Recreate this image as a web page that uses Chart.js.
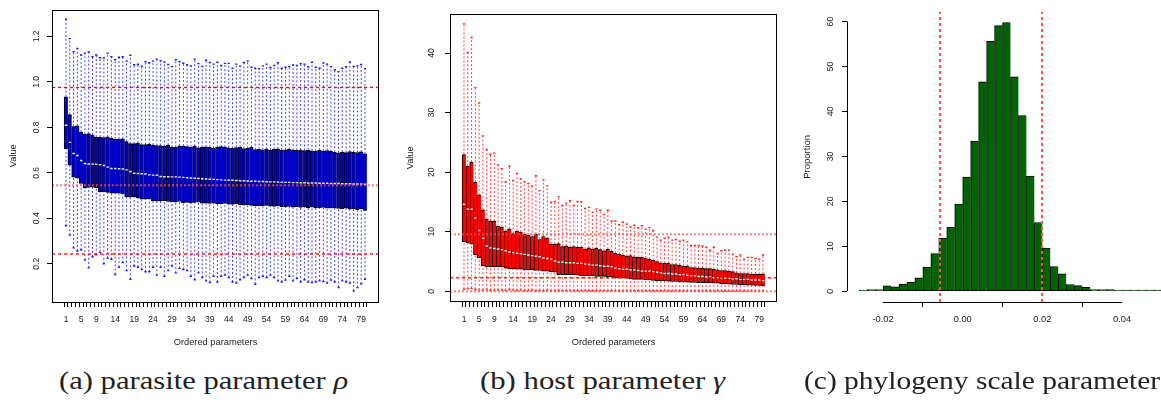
<!DOCTYPE html>
<html><head><meta charset="utf-8">
<script src="https://cdn.jsdelivr.net/npm/chart.js@4/dist/chart.umd.min.js"></script>
<style>
html,body{margin:0;padding:0;background:#fff;width:1161px;height:404px;overflow:hidden;position:relative;}
canvas{position:absolute;top:0;}
#ca{left:0}#cb{left:390px}#cc{left:780px}
.cap{position:absolute;top:368px;font-family:"Liberation Serif","Times New Roman",serif;font-size:26px;line-height:26px;color:#222;white-space:nowrap;transform-origin:0 50%;}
.cap i{font-style:italic}
</style></head><body>
<canvas id="ca" width="390" height="355"></canvas>
<canvas id="cb" width="400" height="355"></canvas>
<canvas id="cc" width="400" height="355"></canvas>
<div class="cap" id="capA" data-left="59" data-w="289">(a) parasite parameter <i>ρ</i></div>
<div class="cap" id="capB" data-left="480" data-w="245">(b) host parameter <i>γ</i></div>
<div class="cap" id="capC" data-left="804" data-w="356">(c) phylogeny scale parameter</div>
<script>
// ---------- Panel (a): parasite parameter rho ----------
const paramsA = Array.from({length: 80}, (_, i) => i + 1);
const xLabelsA = [1,5,9,14,19,24,29,34,39,44,49,54,59,64,69,74,79];
const yTicksA = [0.2,0.4,0.6,0.8,1.0,1.2];
const maxA = [1.275,1.190,1.132,1.147,1.118,1.126,1.131,1.110,1.118,1.106,
  1.106,1.126,1.110,1.097,1.108,1.110,1.091,1.117,1.075,1.077,
  1.069,1.088,1.084,1.091,1.100,1.093,1.087,1.076,1.067,1.097,
  1.088,1.082,1.075,1.070,1.100,1.080,1.068,1.095,1.085,1.078,
  1.086,1.072,1.081,1.081,1.060,1.078,1.069,1.085,1.092,1.064,
  1.060,1.058,1.070,1.078,1.063,1.072,1.084,1.060,1.064,1.067,
  1.074,1.072,1.080,1.078,1.066,1.086,1.064,1.060,1.083,1.078,
  1.067,1.052,1.045,1.060,1.066,1.087,1.068,1.070,1.076,1.058];
const q3A = [0.934,0.856,0.803,0.807,0.779,0.769,0.772,0.766,0.757,0.757,
  0.755,0.758,0.752,0.748,0.748,0.749,0.737,0.728,0.728,0.731,
  0.724,0.724,0.725,0.722,0.720,0.720,0.716,0.722,0.712,0.712,
  0.719,0.718,0.715,0.713,0.717,0.710,0.712,0.714,0.712,0.708,
  0.712,0.715,0.713,0.710,0.708,0.711,0.713,0.707,0.708,0.712,
  0.702,0.703,0.701,0.704,0.700,0.703,0.705,0.700,0.701,0.703,
  0.700,0.699,0.700,0.698,0.700,0.697,0.695,0.699,0.696,0.698,
  0.694,0.690,0.688,0.691,0.689,0.693,0.690,0.689,0.692,0.683];
const medA = [0.809,0.734,0.685,0.676,0.654,0.641,0.639,0.638,0.637,0.636,
  0.632,0.625,0.619,0.619,0.618,0.617,0.613,0.606,0.598,0.597,
  0.596,0.595,0.591,0.590,0.589,0.584,0.583,0.583,0.582,0.582,
  0.581,0.580,0.578,0.577,0.576,0.575,0.574,0.573,0.572,0.571,
  0.570,0.569,0.568,0.567,0.567,0.566,0.565,0.565,0.564,0.563,
  0.563,0.562,0.562,0.561,0.560,0.560,0.559,0.559,0.558,0.558,
  0.557,0.557,0.556,0.556,0.555,0.555,0.555,0.554,0.554,0.554,
  0.553,0.553,0.553,0.552,0.552,0.552,0.551,0.551,0.551,0.550];
const q1A = [0.706,0.634,0.581,0.579,0.553,0.532,0.536,0.537,0.535,0.517,
  0.516,0.514,0.510,0.510,0.510,0.507,0.495,0.493,0.495,0.490,
  0.484,0.484,0.486,0.476,0.475,0.475,0.477,0.474,0.472,0.471,
  0.474,0.469,0.470,0.468,0.470,0.471,0.466,0.466,0.465,0.466,
  0.464,0.463,0.465,0.462,0.461,0.463,0.460,0.458,0.460,0.457,
  0.455,0.456,0.454,0.457,0.453,0.452,0.454,0.451,0.450,0.452,
  0.449,0.451,0.448,0.450,0.447,0.449,0.446,0.447,0.448,0.445,
  0.444,0.446,0.443,0.441,0.444,0.440,0.442,0.438,0.441,0.435];
const minA = [0.367,0.326,0.270,0.256,0.262,0.216,0.182,0.230,0.240,0.250,
  0.200,0.225,0.220,0.153,0.185,0.205,0.170,0.132,0.190,0.185,
  0.175,0.165,0.165,0.185,0.150,0.185,0.145,0.170,0.190,0.160,
  0.180,0.175,0.170,0.145,0.130,0.160,0.140,0.125,0.118,0.145,
  0.120,0.145,0.150,0.140,0.120,0.115,0.130,0.140,0.150,0.135,
  0.110,0.140,0.145,0.140,0.150,0.140,0.125,0.120,0.128,0.145,
  0.125,0.135,0.120,0.130,0.120,0.118,0.120,0.125,0.122,0.115,
  0.128,0.120,0.096,0.125,0.120,0.115,0.080,0.095,0.112,0.132];
const refA = [0.975, 0.545, 0.243];

// ---------- Panel (b): host parameter gamma ----------
const paramsB = Array.from({length: 80}, (_, i) => i + 1);
const xLabelsB = [1,5,9,14,19,24,29,34,39,44,49,54,59,64,69,74,79];
const yTicksB = [0,10,20,30,40];
const maxB = [44.9,40.1,42.6,34.2,31.6,26.1,23.8,23.0,23.2,21.2,
  20.6,18.4,21.0,18.6,19.8,18.9,18.4,18.1,17.7,19.4,
  16.9,18.7,17.7,14.95,15.1,15.9,14.4,14.8,15.2,14.4,
  15.1,15.0,13.9,14.1,13.3,13.8,13.6,12.9,13.6,11.8,
  11.8,11.2,11.6,11.3,10.8,11.1,10.7,11.0,10.4,10.7,
  10.2,9.1,8.6,8.9,9.1,8.6,8.7,8.4,8.6,8.3,
  7.7,7.7,7.7,7.6,7.4,6.9,7.4,6.35,6.8,6.9,
  6.9,6.25,5.8,6.1,5.4,5.7,5.7,5.5,5.4,6.1];
const q3B = [22.96,21.0,21.7,18.3,16.2,13.7,12.1,11.8,11.8,10.9,
  10.8,10.1,10.5,9.7,10.1,9.95,9.55,9.4,9.2,9.6,
  8.7,9.2,8.9,7.95,7.9,8.0,7.5,7.6,7.4,7.5,
  7.4,7.4,7.1,7.3,7.1,7.2,7.0,6.8,7.1,6.7,
  6.4,6.2,6.1,5.9,6.0,5.8,5.7,5.7,5.6,5.4,
  5.2,5.0,4.8,4.7,4.7,4.5,4.5,4.4,4.2,4.2,
  4.0,4.0,3.9,3.9,3.8,3.8,3.7,3.6,3.5,3.5,
  3.4,3.3,3.1,3.0,3.0,3.0,2.9,2.9,2.85,2.95];
const medB = [14.6,13.8,13.8,12.3,10.2,8.9,7.6,7.3,7.2,7.1,
  7.0,6.8,6.6,6.5,6.4,6.3,6.2,6.1,6.0,5.9,
  5.8,5.6,5.5,5.4,5.1,4.9,4.9,4.8,4.8,4.8,
  4.7,4.7,4.6,4.5,4.4,4.4,4.3,4.2,4.2,4.1,
  3.9,3.8,3.7,3.7,3.6,3.6,3.5,3.4,3.4,3.4,
  3.3,3.2,3.1,3.0,3.0,2.9,2.9,2.8,2.8,2.7,
  2.6,2.6,2.5,2.5,2.4,2.4,2.3,2.3,2.2,2.2,
  2.2,2.1,2.1,2.0,2.0,2.0,1.9,1.9,1.9,1.8];
const q1B = [8.33,8.17,7.9,6.1,5.6,4.3,4.1,4.1,4.1,4.1,
  4.1,3.9,3.75,3.75,3.7,3.7,3.6,3.6,3.6,3.5,
  3.5,3.4,3.4,3.3,3.2,2.8,2.8,2.8,2.8,2.75,
  2.7,2.65,2.65,2.6,2.6,2.5,2.5,2.5,2.45,2.4,
  2.3,2.25,2.2,2.2,2.1,2.0,2.0,2.0,1.95,1.9,
  1.85,1.8,1.8,1.75,1.7,1.65,1.65,1.6,1.6,1.55,
  1.5,1.5,1.45,1.45,1.4,1.4,1.35,1.35,1.3,1.3,
  1.2,1.15,1.15,1.1,1.1,1.05,1.05,1.0,1.0,0.94];
const minB = [0.35,0.45,0.5,0.3,0.25,0.2,0.3,0.15,0.2,0.25,
  0.2,0.15,0.3,0.2,0.15,0.2,0.1,0.15,0.2,0.1,
  0.15,0.1,0.2,0.12,0.1,0.15,0.08,0.1,0.12,0.1,
  0.1,0.08,0.12,0.1,0.06,0.1,0.08,0.1,0.07,0.09,
  0.08,0.06,0.1,0.07,0.08,0.06,0.09,0.07,0.06,0.08,
  0.06,0.07,0.05,0.08,0.06,0.05,0.07,0.06,0.05,0.06,
  0.05,0.06,0.05,0.04,0.06,0.05,0.04,0.05,0.04,0.05,
  0.04,0.05,0.04,0.04,0.05,0.03,0.04,0.04,0.03,0.04];
const refB = [9.57, 2.27, 0.0];

// ---------- Panel (c): phylogeny scale parameter ----------
const binCentersC = [-0.025,-0.023,-0.021,-0.019,-0.017,-0.015,-0.013,-0.011,-0.009,-0.007,
  -0.005,-0.003,-0.001,0.001,0.003,0.005,0.007,0.009,0.011,0.013,
  0.015,0.017,0.019,0.021,0.023,0.025,0.027,0.029,0.031,0.033,
  0.035,0.037,0.039,0.041,0.043,0.045,0.047,0.049];
const proportionC = [0.1,0.4,0.4,1.2,1.0,1.6,2.0,3.0,5.4,8.4,
  11.8,14.2,19.4,25.4,33.4,46.6,55.6,59.1,59.8,47.7,
  39.1,25.6,15.3,9.6,5.5,3.9,1.5,1.25,0.9,0.4,
  0.4,0.35,0.15,0.1,0.05,0.05,0.05,0.1];
const xTicksC = [-0.02, 0.00, 0.02, 0.04];
const yTicksC = [0,10,20,30,40,50,60];
const refC = [-0.0057, 0.0199];

// ---------- rendering ----------
const FONT = '"Liberation Sans", Arial, Helvetica, sans-serif';
const TXT = '#1a1a1a';
Chart.defaults.font.family = FONT;
Chart.defaults.animation = false;

const framePlugin = {
  id: 'frame',
  afterDraw(chart) {
    const {ctx, chartArea: a} = chart;
    ctx.save();
    ctx.strokeStyle = '#000';
    ctx.lineWidth = 1;
    ctx.strokeRect(Math.round(a.left) + 0.5, Math.round(a.top) + 0.5,
      Math.round(a.right - a.left) - 1, Math.round(a.bottom - a.top) - 1);
    ctx.restore();
  }
};

function boxChart(id, o) {
  const pos = o.params;
  const whisk = [];
  pos.forEach((x, i) => {
    whisk.push({x, y: o.min[i]}, {x, y: o.q1[i]}, {x, y: null},
               {x, y: o.q3[i]}, {x, y: o.max[i]}, {x, y: null});
  });
  const staples = [];
  pos.forEach((x, i) => { staples.push({x, y: o.min[i]}, {x, y: o.max[i]}); });
  const datasets = [
    {type: 'line', data: whisk, borderColor: o.whiskColor, borderWidth: 1,
     borderDash: [2, 2], pointRadius: 0, spanGaps: false, order: 5},
    {type: 'line', data: staples, showLine: false, pointStyle: 'line', pointRadius: 1.1,
     pointBorderWidth: 1.4, pointBorderColor: o.stapleColor, order: 3},
    {type: 'bar', data: pos.map((x, i) => ({x, y: [o.q1[i], o.q3[i]]})),
     backgroundColor: o.fill, borderColor: '#000',
     borderWidth: {left: 1, right: 0, top: 1, bottom: 1}, borderSkipped: false,
     barPercentage: 1, categoryPercentage: 1, order: 4},
    {type: 'line', data: pos.map((x, i) => ({x, y: o.med[i]})), showLine: false,
     pointStyle: 'line', pointRadius: 1.3, pointBorderWidth: 1.4,
     pointBorderColor: 'rgba(255,255,255,0.9)', order: 2},
  ];
  o.refs.forEach((v, k) => {
    const s = o.refStyles[k];
    datasets.push({type: 'line', data: [{x: o.xMin, y: v}, {x: o.xMax, y: v}],
      borderColor: s.color, borderWidth: s.w, borderDash: s.dash, pointRadius: 0, order: 1});
  });
  return new Chart(document.getElementById(id), {
    type: 'bar',
    data: {datasets},
    options: {
      responsive: false, animation: false,
      layout: {padding: {left: 0, top: 9, right: o.padRight, bottom: 0}},
      plugins: {legend: {display: false}, tooltip: {enabled: false}},
      scales: {
        x: {type: 'linear', min: o.xMin, max: o.xMax, offset: false,
          afterBuildTicks: s => { s.ticks = pos.map(v => ({value: v})); },
          ticks: {autoSkip: false, maxRotation: 0, minRotation: 0, padding: 7.6, color: TXT,
            font: {family: FONT, size: 8.5},
            callback: v => o.xLabels.includes(v) ? String(v) : ''},
          grid: {drawOnChartArea: false, drawTicks: true, tickLength: 5, color: '#000', tickColor: '#000'},
          border: {display: false},
          title: {display: true, text: 'Ordered parameters', color: TXT,
            font: {family: FONT, size: 9.3}, padding: {top: 0, bottom: 7.1}},
          afterFit: s => { s.height = 53; }},
        y: {type: 'linear', min: o.yMin, max: o.yMax,
          afterBuildTicks: s => { s.ticks = o.yTicks.map(v => ({value: v})); },
          ticks: {minRotation: 90, maxRotation: 90, crossAlign: 'center', padding: o.yTickPad,
            color: TXT, font: {family: FONT, size: 8.5}, callback: v => o.yFmt(v)},
          grid: {drawOnChartArea: false, tickLength: 5, color: '#000', tickColor: '#000'},
          border: {display: false},
          title: {display: true, text: 'Value', color: TXT, font: {family: FONT, size: 9.2},
            padding: {top: o.yTitlePad, bottom: 0}},
          afterFit: s => { s.width = o.yAxisW; }}
      }
    },
    plugins: [framePlugin]
  });
}

boxChart('ca', {
  params: paramsA, min: minA, q1: q1A, med: medA, q3: q3A, max: maxA,
  xLabels: xLabelsA, yTicks: yTicksA, yFmt: v => v.toFixed(1),
  xMin: -2.7, xMax: 83.7, yMin: 0.032, yMax: 1.318,
  fill: '#0000cc', whiskColor: 'rgba(30,30,255,0.85)', stapleColor: '#1515ff',
  refs: refA,
  refStyles: [
    {color: '#ff0000', w: 1.3, dash: [3, 3]},
    {color: 'rgba(255,80,80,0.75)', w: 2, dash: [2, 2]},
    {color: '#ff0000', w: 1.3, dash: [3, 3]}],
  padRight: 11, yAxisW: 52, yTickPad: 4.4, yTitlePad: 7.8
});

boxChart('cb', {
  params: paramsB, min: minB, q1: q1B, med: medB, q3: q3B, max: maxB,
  xLabels: xLabelsB, yTicks: yTicksB, yFmt: v => String(v),
  xMin: -2.7, xMax: 83.7, yMin: -1.79, yMax: 46.6,
  fill: '#ff0000', whiskColor: 'rgba(255,30,30,0.85)', stapleColor: '#ff2020',
  refs: refB,
  refStyles: [
    {color: 'rgba(255,80,80,0.75)', w: 2, dash: [2, 2]},
    {color: '#ff0000', w: 1.3, dash: [3, 3]},
    {color: 'rgba(255,80,80,0.75)', w: 2, dash: [2, 2]}],
  padRight: 13, yAxisW: 60, yTickPad: 8.6, yTitlePad: 14.5
});

// Histogram (c)
const rAxesPlugin = {
  id: 'raxes',
  afterDraw(chart) {
    const {ctx, chartArea: a, scales: {x, y}} = chart;
    ctx.save();
    ctx.strokeStyle = '#000';
    ctx.lineWidth = 1;
    ctx.beginPath();
    const yb = Math.round(a.bottom) + 0.5;
    ctx.moveTo(x.getPixelForValue(xTicksC[0]), yb);
    ctx.lineTo(x.getPixelForValue(xTicksC[xTicksC.length - 1]), yb);
    const xl = Math.round(a.left) + 0.5;
    ctx.moveTo(xl, y.getPixelForValue(yTicksC[0]));
    ctx.lineTo(xl, y.getPixelForValue(yTicksC[yTicksC.length - 1]));
    ctx.stroke();
    ctx.restore();
  }
};

const lastBin = binCentersC.length - 1;
new Chart(document.getElementById('cc'), {
  type: 'bar',
  data: {datasets: [
    {type: 'bar', data: binCentersC.map((x, i) => ({x, y: proportionC[i]})),
     backgroundColor: '#006400', borderColor: '#000',
     borderWidth: ctx => ({top: 1, left: 1, bottom: 1, right: ctx.dataIndex === lastBin ? 1 : 0}),
     borderSkipped: false, minBarLength: 1.2,
     barPercentage: 1, categoryPercentage: 1, order: 2},
    ...refC.map(v => ({type: 'line', data: [{x: v, y: -2.39}, {x: v, y: 62.2}],
      borderColor: '#ff5050', borderWidth: 2, borderDash: [3, 3], pointRadius: 0, order: 1}))
  ]},
  options: {
    responsive: false, animation: false,
    layout: {padding: {left: 0, top: 9, right: 6, bottom: 0}},
    plugins: {legend: {display: false}, tooltip: {enabled: false}},
    scales: {
      x: {type: 'linear', min: -0.02904, max: 0.05304, offset: false,
        afterBuildTicks: s => { s.ticks = xTicksC.map(v => ({value: v})); },
        ticks: {autoSkip: false, maxRotation: 0, minRotation: 0, padding: 6.7, color: TXT,
          font: {family: FONT, size: 9.3}, callback: v => v.toFixed(2)},
        grid: {drawOnChartArea: false, tickLength: 5, color: '#000', tickColor: '#000'},
        border: {display: false},
        afterFit: s => { s.height = 53; }},
      y: {type: 'linear', min: -2.39, max: 62.2,
        afterBuildTicks: s => { s.ticks = yTicksC.map(v => ({value: v})); },
        ticks: {minRotation: 90, maxRotation: 90, crossAlign: 'center', padding: 6.4, color: TXT,
          font: {family: FONT, size: 8.8}, callback: v => String(v)},
        grid: {drawOnChartArea: false, tickLength: 5, color: '#000', tickColor: '#000'},
        border: {display: false},
        title: {display: true, text: 'Proportion', color: TXT, font: {family: FONT, size: 9.5},
          padding: {top: 21.8, bottom: 0}},
        afterFit: s => { s.width = 67; }}
    }
  },
  plugins: [rAxesPlugin]
});

// Fit captions to the reference widths
document.querySelectorAll('.cap').forEach(el => {
  const w = el.getBoundingClientRect().width;
  const target = parseFloat(el.dataset.w);
  el.style.left = el.dataset.left + 'px';
  el.style.transform = 'scaleX(' + (target / w).toFixed(3) + ')';
});
</script>
</body></html>
